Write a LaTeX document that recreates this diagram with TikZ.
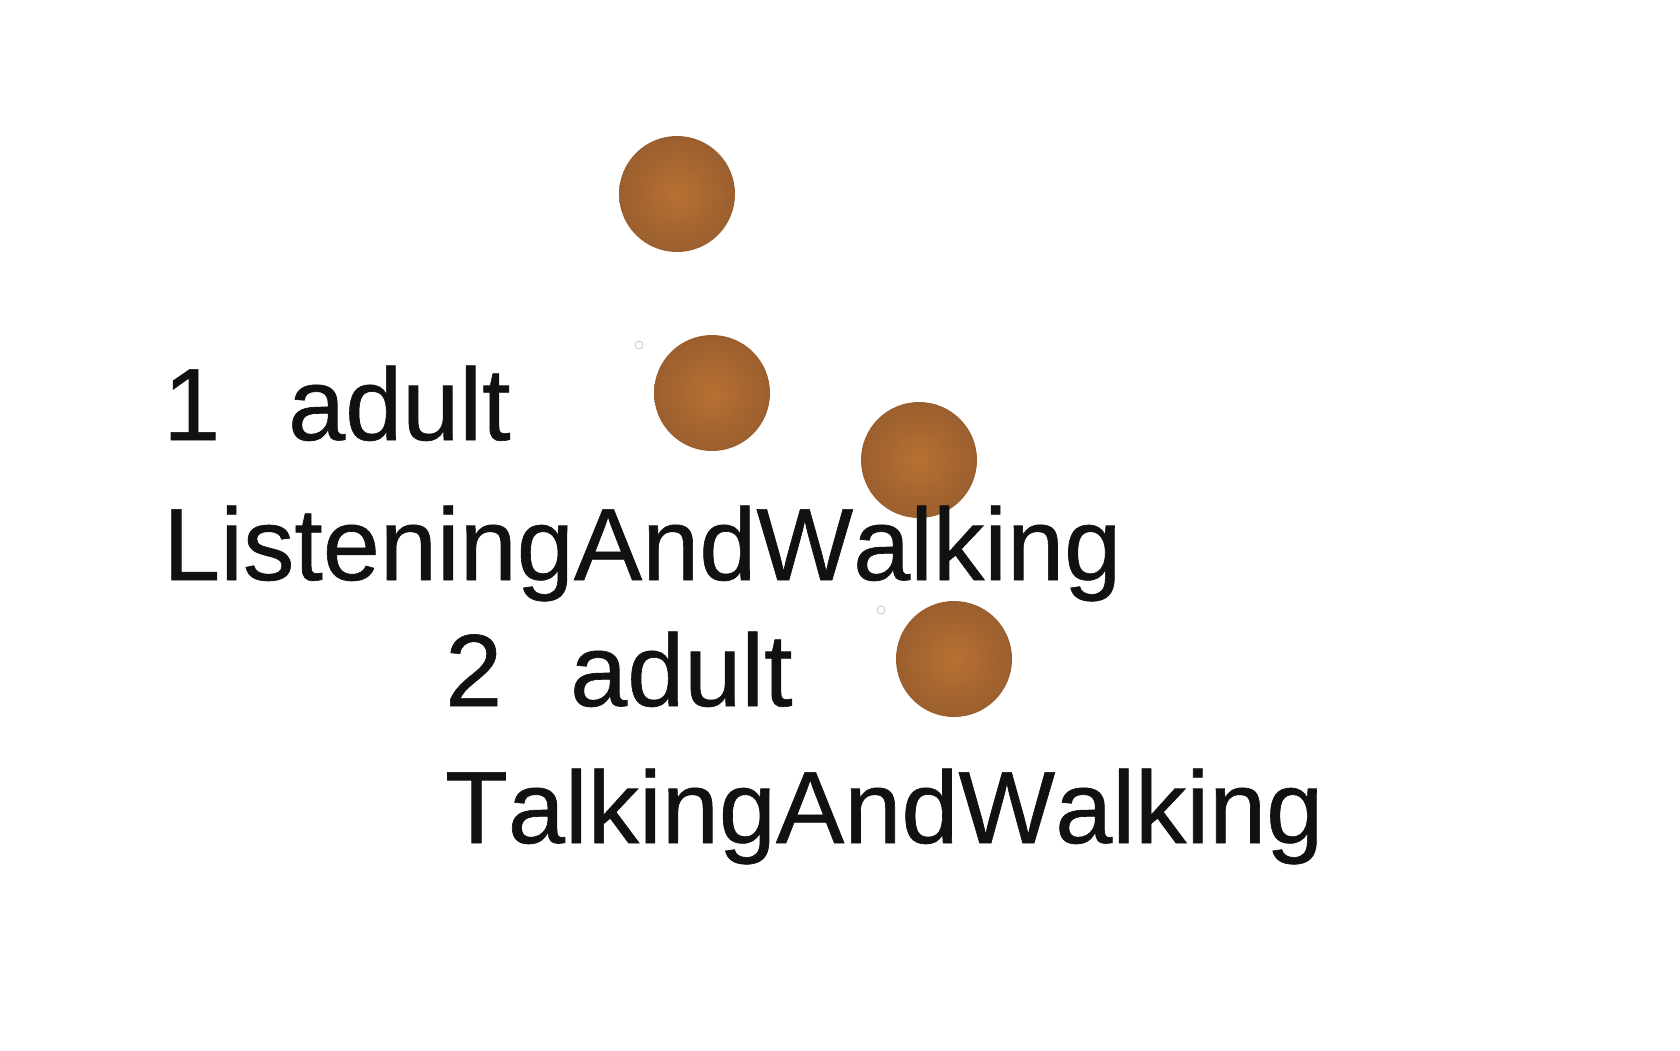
\documentclass[tikz,border=0pt]{standalone}
\usepackage{fontspec}
\setmainfont[Kerning=Off,FakeBold=0.6]{Liberation Sans}
\begin{document}
\begin{tikzpicture}[x=1pt,y=-1pt,
  ball/.style={circle,minimum size=116pt,inner sep=0pt,draw=none,shading=radial,inner color=ballin,outer color=ballout},
  dot/.style={circle,minimum size=8pt,inner sep=0pt,draw=black!18,line width=1pt,fill=white},
  lbl/.style={anchor=base west,inner sep=0pt,text=txt,font=\fontsize{102.6}{110}\selectfont}]
\definecolor{ballin}{RGB}{184,112,50}
\definecolor{ballout}{RGB}{155,95,47}
\definecolor{txt}{RGB}{17,17,17}
\useasboundingbox[fill=white] (0,0) rectangle (1680,1050);
\node[ball] (c1) at (677,194) {};
\node[ball] (c2) at (712,393) {};
\node[ball] (c3) at (919,460) {};
\node[ball] (c4) at (954,659) {};
\node[dot] (s1) at (639,345) {};
\node[dot] (s2) at (881,610) {};
\node[lbl] (n1) at (163,440) {1\hspace{68pt}adult};
\node[lbl] (a1) at (163,580) {ListeningAndWalking};
\node[lbl] (n2) at (445,706) {2\hspace{68pt}adult};
\node[lbl] (a2) at (445,843) {TalkingAndWalking};
\end{tikzpicture}
\end{document}
